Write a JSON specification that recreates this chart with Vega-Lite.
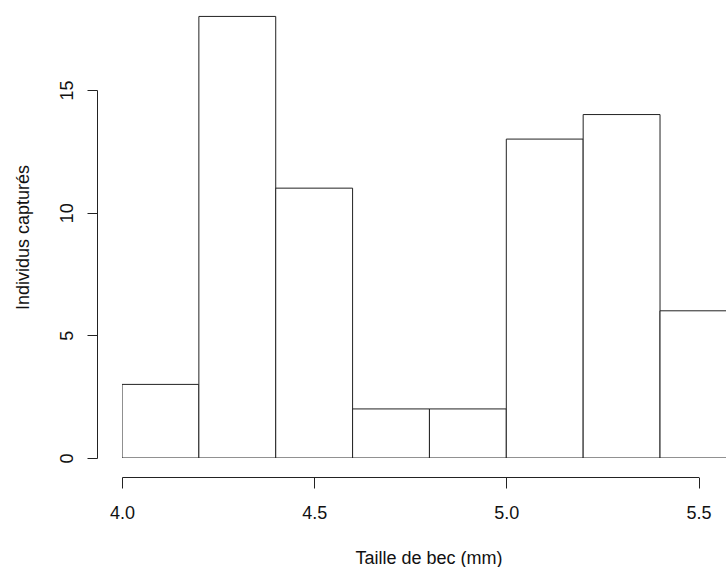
{
  "$schema": "https://vega.github.io/schema/vega-lite/v6.json",
  "width": 604,
  "height": 458,
  "autosize": {"type": "none"},
  "padding": {"left": 122, "top": 0, "right": 0, "bottom": 109},
  "background": "white",
  "config": {
    "view": {"stroke": null},
    "font": "Liberation Sans",
    "axis": {"labelFont": "Liberation Sans", "titleFont": "Liberation Sans", "labelColor": "#111", "titleColor": "#111", "domainColor": "#222", "tickColor": "#222", "titleFontWeight": "normal", "grid": false}
  },
  "data": {"values": [
    {"start": 4.0, "end": 4.2, "count": 3},
    {"start": 4.2, "end": 4.4, "count": 18},
    {"start": 4.4, "end": 4.6, "count": 11},
    {"start": 4.6, "end": 4.8, "count": 2},
    {"start": 4.8, "end": 5.0, "count": 2},
    {"start": 5.0, "end": 5.2, "count": 13},
    {"start": 5.2, "end": 5.4, "count": 14},
    {"start": 5.4, "end": 5.6, "count": 6}
  ]},
  "layer": [
    {
      "mark": {"type": "rect", "fill": "white", "stroke": "#222", "strokeWidth": 1, "clip": true},
      "encoding": {
        "x": {"field": "start", "type": "quantitative", "scale": {"domain": [4.0, 5.5717], "nice": false, "zero": false}, "axis": null},
        "x2": {"field": "end"},
        "y": {"field": "count", "type": "quantitative", "scale": {"domain": [0, 18.67], "nice": false}, "axis": null},
        "y2": {"datum": 0}
      }
    },
    {
      "mark": {"type": "point", "opacity": 0},
      "encoding": {
        "x": {"field": "start", "type": "quantitative",
          "scale": {"domain": [4.0, 5.5], "range": [0, 576.5], "nice": false, "zero": false},
          "axis": {"orient": "bottom", "offset": 19, "values": [4.0, 4.5, 5.0, 5.5], "format": ".1f", "tickSize": 11, "labelFontSize": 18, "labelBaseline": "alphabetic", "labelPadding": 30, "labelFlush": false, "title": "Taille de bec (mm)", "titleFontSize": 18, "titleBaseline": "alphabetic", "titleX": 306.5, "titleY": 86, "titleAnchor": null}
        },
        "y": {"field": "count", "type": "quantitative",
          "scale": {"domain": [0, 15], "range": [458, 90], "nice": false, "zero": true},
          "axis": {"orient": "left", "offset": 25, "values": [0, 5, 10, 15], "tickSize": 10, "labelFontSize": 18, "labelAngle": -90, "labelAlign": "center", "labelBaseline": "alphabetic", "labelPadding": 15, "labelFlush": false, "title": "Individus capturés", "titleFontSize": 18, "titleAngle": -90, "titleAlign": "center", "titleBaseline": "alphabetic", "titleX": -69, "titleY": 237}
        }
      }
    }
  ],
  "resolve": {"scale": {"x": "independent", "y": "independent"}, "axis": {"x": "independent", "y": "independent"}}
}
